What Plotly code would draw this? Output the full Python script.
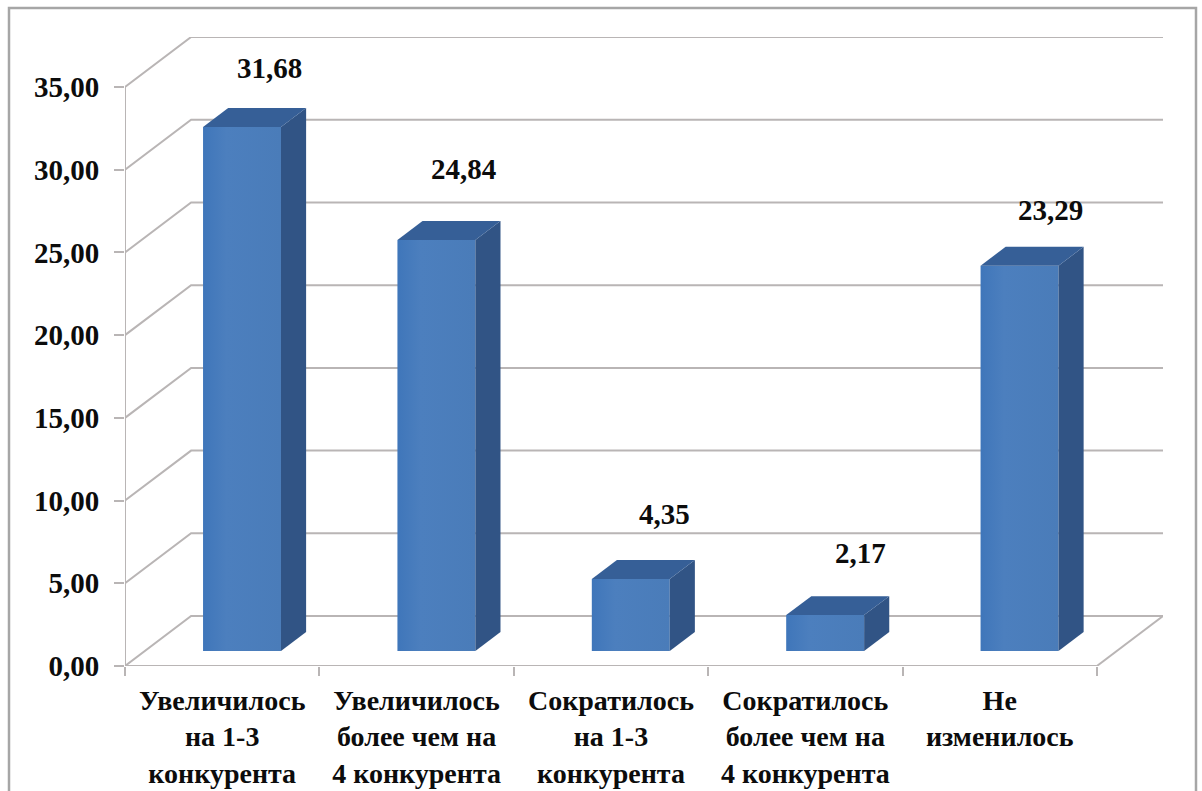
import plotly.graph_objects as go

categories = ["Увеличилось<br>на 1-3<br>конкурента", "Увеличилось<br>более чем на<br>4 конкурента",
              "Сократилось<br>на 1-3<br>конкурента", "Сократилось<br>более чем на<br>4 конкурента",
              "Не<br>изменилось<br> "]
values = [31.68, 24.84, 4.35, 2.17, 23.29]
value_labels = ["31,68", "24,84", "4,35", "2,17", "23,29"]
y_ticks = [0, 5, 10, 15, 20, 25, 30, 35]
y_tick_labels = ["0,00", "5,00", "10,00", "15,00", "20,00", "25,00", "30,00", "35,00"]

# pseudo-3D projection (in data units)
DX, DY = 0.34, 3.02
W = 0.401
F0, F1 = 0.30, 0.68
GRID = "#b9b5b5"
FONT = "Liberation Serif"
FS = 28
FS_NUM = 29
TXT = "#0c0c0c"
L, R, T, B = 125, 1163, 37, 666
FW, FH = 1202, 791

fig = go.Figure()

def line(xs, ys, color=GRID, width=2):
    fig.add_trace(go.Scatter(x=xs, y=ys, mode="lines", line=dict(color=color, width=width),
                             hoverinfo="skip", showlegend=False))

for v in y_ticks:
    line([0, DX, 5 + DX], [v, v + DY, v + DY])
line([0, 5], [0, 0])
line([5, 5 + DX], [0, DY])

for i, v in enumerate(values):
    x0 = i + 0.5 - W / 2 + F0 * DX
    x1 = x0 + W
    y0 = F0 * DY
    sx = (F1 - F0) * DX
    sy = (F1 - F0) * DY
    fig.add_trace(go.Scatter(x=[x0, x1, x1, x0, x0], y=[y0, y0, y0 + v, y0 + v, y0], mode="lines",
                             fill="toself", line=dict(width=0),
                             fillgradient=dict(type="horizontal",
                                               colorscale=[[0, "#3f76ba"], [0.3, "#4c7fbe"], [1, "#4a7cb9"]]),
                             hoverinfo="skip", showlegend=False))
    fig.add_trace(go.Scatter(x=[x1, x1 + sx, x1 + sx, x1, x1], y=[y0, y0 + sy, y0 + v + sy, y0 + v, y0], mode="lines",
                             fill="toself", fillcolor="#315485", line=dict(width=0),
                             hoverinfo="skip", showlegend=False))
    fig.add_trace(go.Scatter(x=[x0, x1, x1 + sx, x0 + sx, x0],
                             y=[y0 + v, y0 + v, y0 + v + sy, y0 + v + sy, y0 + v], mode="lines",
                             fill="toself", fillcolor="#365f97", line=dict(width=0),
                             hoverinfo="skip", showlegend=False))

label_shift = [(27, 59), (27, 71), (34, 65), (35, 62), (31, 56)]
annotations = []
for i, v in enumerate(values):
    annotations.append(dict(x=i + 0.5 + F0 * DX, y=F0 * DY + v, text=value_labels[i], showarrow=False,
                            xshift=label_shift[i][0], yshift=label_shift[i][1],
                            font=dict(family=FONT, size=FS_NUM, color=TXT, weight="bold")))

fig.update_layout(
    width=FW, height=FH, autosize=False,
    margin=dict(l=L, r=FW - R, t=T, b=FH - B, pad=0),
    paper_bgcolor="white", plot_bgcolor="white",
    showlegend=False, annotations=annotations,
    font=dict(family=FONT, size=FS, color=TXT),
    xaxis=dict(range=[0, 5 + DX], showgrid=False, zeroline=False, showline=False,
               tickmode="array", tickvals=[0.5, 1.5, 2.5, 3.5, 4.5], ticktext=categories, ticks="",
               tickangle=0, ticklabelstandoff=15, automargin=False,
               tickfont=dict(family=FONT, size=FS, color=TXT, weight="bold"),
               minor=dict(tickmode="array", tickvals=[0, 1, 2, 3, 4, 5], ticks="outside", ticklen=9,
                          tickcolor=GRID, tickwidth=2, showgrid=False)),
    yaxis=dict(range=[0, 35 + DY], showgrid=False, zeroline=False, showline=False,
               tickmode="array", tickvals=y_ticks, ticktext=y_tick_labels, ticks="outside", ticklen=10,
               tickcolor=GRID, tickwidth=2, ticklabelstandoff=9, automargin=False,
               tickfont=dict(family=FONT, size=FS_NUM, color=TXT, weight="bold")),
    shapes=[
        dict(type="rect", xref="paper", yref="paper", layer="below",
             x0=(9 - L) / (R - L), x1=(1196 - L) / (R - L),
             y0=(B - 820) / (B - T), y1=(B - 8) / (B - T),
             line=dict(color="#a6a6a6", width=2.5), fillcolor="white"),
        dict(type="line", xref="x", yref="y", x0=0, x1=0, y0=0, y1=35,
             line=dict(color=GRID, width=2), layer="below"),
    ],
)

fig.write_html("out.html", config={"displayModeBar": False},
               post_script="document.body.style.margin='0';document.documentElement.style.overflow='hidden';")
